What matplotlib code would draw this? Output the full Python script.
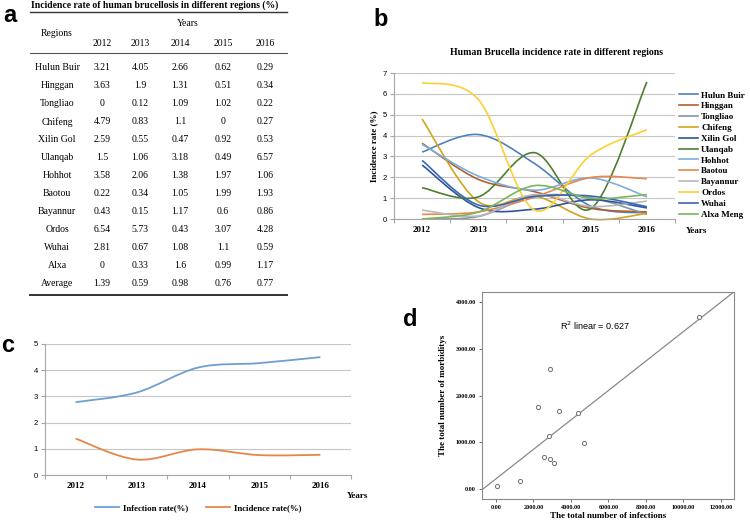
import numpy as np
import matplotlib
matplotlib.use("Agg")
import matplotlib.pyplot as plt
from matplotlib.path import Path
from matplotlib.patches import PathPatch
from matplotlib.lines import Line2D

# ---------------------------------------------------------------
# data
years = ["2012", "2013", "2014", "2015", "2016"]
regions = ["Hulun Buir", "Hinggan", "Tongliao", "Chifeng", "Xilin Gol", "Ulanqab",
           "Hohhot", "Baotou", "Bayannur", "Ordos", "Wuhai", "Alxa"]
rates = [
    [3.21, 4.05, 2.66, 0.62, 0.29],
    [3.63, 1.9, 1.31, 0.51, 0.34],
    [0, 0.12, 1.09, 1.02, 0.22],
    [4.79, 0.83, 1.1, 0, 0.27],
    [2.59, 0.55, 0.47, 0.92, 0.53],
    [1.5, 1.06, 3.18, 0.49, 6.57],
    [3.58, 2.06, 1.38, 1.97, 1.06],
    [0.22, 0.34, 1.05, 1.99, 1.93],
    [0.43, 0.15, 1.17, 0.6, 0.86],
    [6.54, 5.73, 0.43, 3.07, 4.28],
    [2.81, 0.67, 1.08, 1.1, 0.59],
    [0, 0.33, 1.6, 0.99, 1.17],
]
average = [1.39, 0.59, 0.98, 0.76, 0.77]
legend_names = regions[:-1] + ["Alxa Meng"]
region_colors = ["#4f81bd", "#b0622e", "#8593a8", "#d4a41c", "#2e5597", "#4e7f2f",
                 "#7cafdd", "#e8884a", "#b9b9b9", "#fcd033", "#3a66b8", "#7cb659"]

infection_rate = [2.78, 3.15, 4.1, 4.27, 4.5]
incidence_rate = average

infections = [50, 1290, 2230, 2570, 2820, 2890, 3110, 3390, 4380, 4710, 2860, 10820]
morbidity = [60, 177, 1760, 674, 1135, 645, 560, 1667, 1624, 979, 2575, 3690]
r2_text = "0.627"

W, H = 750, 522
SERIF = "Liberation Serif"
SANS = "Liberation Sans"


def box(x0, y0, x1, y1):
    return [x0 / W, 1 - y1 / H, (x1 - x0) / W, (y1 - y0) / H]


def smooth_path(xs, ys, f=1 / 6.):
    # excel-like smoothed line as cubic bezier segments
    pts = np.column_stack([xs, ys]).astype(float)
    n = len(pts)
    verts = [pts[0]]
    codes = [Path.MOVETO]
    for i in range(n - 1):
        p0 = pts[max(i - 1, 0)]
        p1 = pts[i]
        p2 = pts[i + 1]
        p3 = pts[min(i + 2, n - 1)]
        verts += [p1 + (p2 - p0) * f, p2 - (p3 - p1) * f, p2]
        codes += [Path.CURVE4] * 3
    return Path(verts, codes)


def category_axes(ax, ymax):
    ax.set_xlim(-0.5, 4.5)
    ax.set_ylim(0, ymax)
    ax.set_yticks(range(ymax + 1))
    ax.yaxis.grid(True, color="#c6c6c6", lw=0.8)
    ax.set_axisbelow(True)
    for s in ["top", "right"]:
        ax.spines[s].set_visible(False)
    for s in ["left", "bottom"]:
        ax.spines[s].set_color("#a6a6a6")
        ax.spines[s].set_linewidth(0.8)
    ax.set_xticks(range(5))
    ax.set_xticklabels(years, fontfamily=SERIF, fontweight="bold", fontsize=6.5)
    ax.set_xticks(np.arange(-0.5, 5, 1), minor=True)
    ax.tick_params(axis="x", which="major", length=0, pad=5)
    ax.tick_params(axis="x", which="minor", length=3, color="#a6a6a6", width=0.8)
    ax.tick_params(axis="y", length=3, color="#a6a6a6", width=0.8, labelsize=5.5, pad=2)
    for t in ax.get_yticklabels():
        t.set_fontfamily(SANS)


fig = plt.figure(figsize=(W / 100, H / 100), dpi=100)

# ---------------------------------------------------------------
# a: table
ax0 = fig.add_axes([0, 0, 1, 1])
ax0.set_xlim(0, W)
ax0.set_ylim(H, 0)
ax0.axis("off")

ax0.text(31, 5, "Incidence rate of human brucellosis in different regions (%)",
         family=SERIF, weight="bold", fontsize=6.9, va="center", ha="left")
ax0.plot([30, 287], [11.5, 11.5], color="#333333", lw=1.0)
ax0.plot([30, 287], [53, 53], color="#555555", lw=0.8)
ax0.plot([30, 287], [295, 295], color="#333333", lw=1.4)
ax0.text(57, 34, "Regions", family=SERIF, fontsize=7, ha="center", va="center")
ax0.text(188, 23, "Years", family=SERIF, fontsize=7, ha="center", va="center")
col_x = [102, 140, 180, 223, 265]
for x, yr in zip(col_x, years):
    ax0.text(x, 44, yr, family=SERIF, fontsize=7, ha="center", va="center")
rows = list(zip(regions + ["Average"], rates + [average]))
for i, (name, vals) in enumerate(rows):
    y = 68 + i * 18.0
    ax0.text(57, y, name, family=SERIF, fontsize=7, ha="center", va="center")
    for x, v in zip(col_x, vals):
        ax0.text(x, y, f"{v:g}", family=SERIF, fontsize=7, ha="center", va="center")

# panel letters
for letter, (x, y) in zip("abcd", [(10, 15), (381, 20), (8, 345), (410, 319)]):
    ax0.text(x, y, letter, family=SANS, weight="bold", fontsize=17,
             ha="center", va="center")

# ---------------------------------------------------------------
# b: smoothed lines per region
axb = fig.add_axes(box(394, 73, 675, 219))
category_axes(axb, 7)
xpos = np.arange(5)
for vals, col in zip(rates, region_colors):
    axb.add_patch(PathPatch(smooth_path(xpos, vals), facecolor="none",
                            edgecolor=col, lw=1.2, clip_on=False))
axb.set_title("Human Brucella incidence rate in different regions", family=SERIF,
              weight="bold", fontsize=7, pad=13, x=0.58)
axb.set_ylabel("Incidence rate (%)", family=SERIF, weight="bold", fontsize=6.5, labelpad=3)
axb.text(1.04, -0.08, "Years", transform=axb.transAxes, family=SERIF,
         weight="bold", fontsize=6.5, va="center", ha="left")
handles = [Line2D([], [], color=c, lw=1.2) for c in region_colors]
axb.legend(handles, legend_names, loc="upper left", bbox_to_anchor=(1.0, 0.90),
           frameon=False, prop={"family": SERIF, "weight": "bold", "size": 6.5},
           handlelength=2.2, handletextpad=0.3, labelspacing=0.28, borderaxespad=0)

# ---------------------------------------------------------------
# c: infection vs incidence
axc = fig.add_axes(box(45, 344, 351, 475))
category_axes(axc, 5)
axc.add_patch(PathPatch(smooth_path(xpos, infection_rate), facecolor="none",
                        edgecolor="#6f9fcf", lw=1.3))
axc.add_patch(PathPatch(smooth_path(xpos, incidence_rate), facecolor="none",
                        edgecolor="#e3884a", lw=1.3))
axc.text(0.985, -0.16, "Years", transform=axc.transAxes, family=SERIF,
         weight="bold", fontsize=6.5, va="center", ha="left")
axc.legend([Line2D([], [], color="#6f9fcf", lw=1.3), Line2D([], [], color="#e3884a", lw=1.3)],
           ["Infection rate(%)", "Incidence rate(%)"], loc="upper center",
           bbox_to_anchor=(0.5, -0.16), ncol=2, frameon=False,
           prop={"family": SERIF, "weight": "bold", "size": 6.3},
           handlelength=2.8, handletextpad=0.4, columnspacing=2.0)

# ---------------------------------------------------------------
# d: scatter with linear fit
axd = fig.add_axes(box(482, 292, 734, 499))
axd.scatter(infections, morbidity, s=9, facecolors="white", edgecolors="#707070",
            linewidths=0.7, zorder=3)
xlim = (-740, 12700)
slope, icpt = np.polyfit(infections, morbidity, 1)
xl = np.array(xlim)
axd.plot(xl, slope * xl + icpt, color="#8a8a8a", lw=0.9)
axd.set_xlim(*xlim)
axd.set_ylim(-215, 4215)
axd.set_xticks(range(0, 12001, 2000))
axd.set_yticks(range(0, 4001, 1000))
axd.set_xticklabels([f"{v:.2f}" for v in range(0, 12001, 2000)])
axd.set_yticklabels([f"{v:.2f}" for v in range(0, 4001, 1000)])
for t in axd.get_xticklabels() + axd.get_yticklabels():
    t.set_fontfamily(SERIF)
    t.set_fontweight("bold")
    t.set_fontsize(4.4)
axd.tick_params(length=2.5, width=0.6, color="#555555", pad=2)
for s in axd.spines.values():
    s.set_color("#8a8a8a")
    s.set_linewidth(0.8)
axd.set_xlabel("The total number of infections", family=SERIF, weight="bold",
               fontsize=6.5, labelpad=1)
axd.set_ylabel("The total number of morbiditys", family=SERIF, weight="bold",
               fontsize=6.5, labelpad=6)
axd.text(0.31, 0.835, "R$^2$ linear = " + r2_text, transform=axd.transAxes,
         family=SANS, fontsize=6.5, va="center", ha="left")

fig.savefig("out.png", dpi=100)
